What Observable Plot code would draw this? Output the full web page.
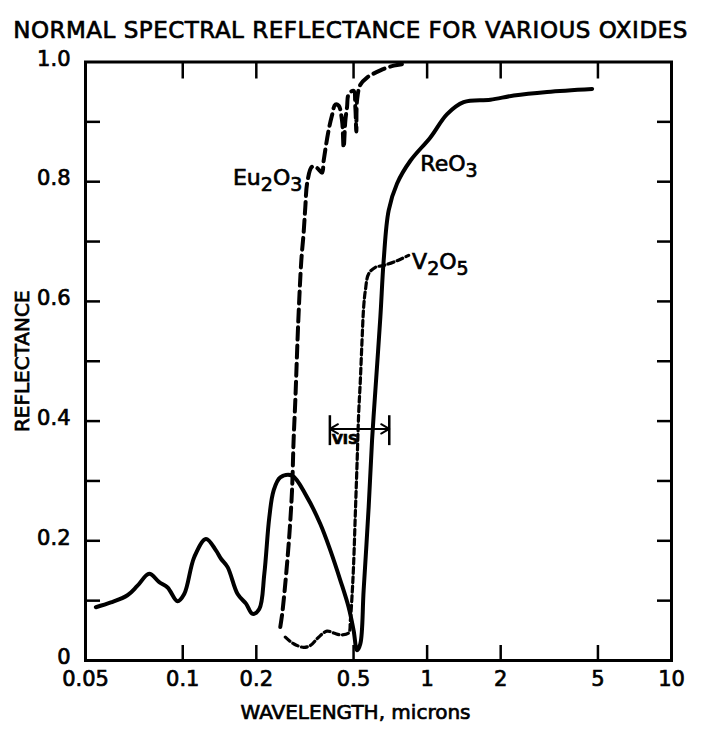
<!DOCTYPE html>
<html>
<head>
<meta charset="utf-8">
<script src="https://cdn.jsdelivr.net/npm/d3@7"></script>
<script src="https://cdn.jsdelivr.net/npm/@observablehq/plot@0.6"></script>
<style>
  body { margin: 0; background: #fff; }
  #title {
    height: 44px; box-sizing: border-box; padding-top: 17px;
    text-align: center; font: 23px "DejaVu Sans"; color: #000; letter-spacing: 0.5px;
    -webkit-text-stroke: 0.7px #000; white-space: nowrap;
  }
  #chart svg text { stroke: #000; stroke-width: 0.7px; }
</style>
</head>
<body>
<div id="title">NORMAL SPECTRAL REFLECTANCE FOR VARIOUS OXIDES</div>
<div id="chart"></div>
<script>
// ---- data (wavelength in microns, reflectance 0..1) ----
const reo3Wavelength = [0.0441, 0.0508, 0.0594, 0.0653, 0.0729, 0.0801, 0.0867, 0.0952, 0.1014, 0.1115,
  0.1245, 0.1367, 0.1434, 0.1526, 0.1677, 0.1815, 0.1931, 0.2057, 0.2157, 0.226, 0.2354, 0.2507,
  0.280, 0.3225, 0.3656, 0.4018, 0.4414, 0.4773, 0.5004, 0.5167, 0.533, 0.5498, 0.5764, 0.5952,
  0.614, 0.6437, 0.664, 0.6961, 0.7534, 0.854, 1.031, 1.207, 1.411, 1.815, 2.262, 3.097, 4.735];
const reo3Reflectance = [0.089, 0.097, 0.109, 0.125, 0.145, 0.131, 0.122, 0.099, 0.111, 0.173,
  0.203, 0.184, 0.170, 0.156, 0.111, 0.095, 0.078, 0.086, 0.145, 0.239, 0.284, 0.306,
  0.309, 0.273, 0.228, 0.184, 0.134, 0.089, 0.050, 0.017, 0.028, 0.117, 0.256, 0.368,
  0.451, 0.574, 0.668, 0.752, 0.797, 0.835, 0.874, 0.913, 0.933, 0.937, 0.944, 0.950, 0.955];

const eu2o3Wavelength = [0.2507, 0.2556, 0.2612, 0.2679, 0.2738, 0.280, 0.2842, 0.2888, 0.2971, 0.3056,
  0.3123, 0.3173, 0.3233, 0.3381, 0.3543, 0.3715, 0.3772, 0.3953, 0.4082, 0.4211, 0.4345, 0.4486,
  0.4554, 0.4628, 0.4703, 0.4773, 0.5004, 0.5084, 0.5132, 0.5167, 0.533, 0.5677, 0.6437, 0.7295, 0.8147];
const eu2o3Reflectance = [0.056, 0.080, 0.117, 0.167, 0.217, 0.284, 0.368, 0.434, 0.568, 0.668,
  0.714, 0.757, 0.799, 0.825, 0.823, 0.815, 0.835, 0.886, 0.911, 0.929, 0.927, 0.902,
  0.857, 0.902, 0.925, 0.946, 0.952, 0.925, 0.884, 0.936, 0.962, 0.974, 0.986, 0.994, 0.997];

const v2o5Wavelength = [0.2629, 0.2842, 0.3123, 0.3327, 0.3597, 0.3895, 0.4144, 0.4414, 0.4773, 0.4851,
  0.4943, 0.5004, 0.5084, 0.5167, 0.5246, 0.533, 0.5416, 0.5498, 0.5587, 0.5764, 0.614, 0.664,
  0.7534, 0.8405];
const v2o5Reflectance = [0.039, 0.028, 0.022, 0.025, 0.039, 0.049, 0.046, 0.043, 0.046, 0.067,
  0.117, 0.162, 0.245, 0.329, 0.412, 0.468, 0.535, 0.590, 0.618, 0.646, 0.657, 0.660,
  0.668, 0.677];

// series labels (name, anchor wavelength, anchor reflectance, text anchor)
const labelNames = ["Eu2O3", "ReO3", "V2O5"];
const labelWavelength = [0.3085, 0.938, 0.868];
const labelReflectance = [0.806, 0.830, 0.666];
const labelAnchor = ["end", "start", "start"];

// visible band marker
const visRange = [0.4, 0.7];
const visLevel = 0.387;
const visBar = [0.359, 0.409];
const visText = "VIS";

// axes
const xDomain = [0.04, 10];
const xTickValues = [0.04, 0.1, 0.2, 0.5, 1, 2, 5, 10];
const xTickLabels = ["0.05", "0.1", "0.2", "0.5", "1", "2", "5", "10"];
const xInnerTicks = [0.1, 0.2, 0.5, 1, 2, 5];
const yTickValues = [0, 0.2, 0.4, 0.6, 0.8, 1.0];
const yTickLabels = ["0", "0.2", "0.4", "0.6", "0.8", "1.0"];
const yInnerTicks = [0.1, 0.2, 0.3, 0.4, 0.5, 0.6, 0.7, 0.8, 0.9];
const xLabel = "WAVELENGTH, microns";
const yLabel = "REFLECTANCE";

// ---- build tables ----
const toRows = (xs, ys) => xs.map((x, i) => ({x, y: ys[i]}));
const reo3 = toRows(reo3Wavelength, reo3Reflectance);
const eu2o3 = toRows(eu2o3Wavelength, eu2o3Reflectance);
const v2o5 = toRows(v2o5Wavelength, v2o5Reflectance);
const labels = labelNames.map((t, i) => ({t, x: labelWavelength[i], y: labelReflectance[i], a: labelAnchor[i]}));
const xTicks = xTickValues.map((v, i) => ({v, t: xTickLabels[i]}));
const yTicks = yTickValues.map((v, i) => ({v, t: yTickLabels[i]}));
const visMid = Math.sqrt(visRange[0] * visRange[1]);

const chart = Plot.plot({
  width: 701,
  height: 685,
  marginLeft: 85,
  marginRight: 30,
  marginTop: 17.5,
  marginBottom: 69,
  style: {fontFamily: "DejaVu Sans", color: "#000", background: "#fff"},
  x: {type: "log", domain: xDomain},
  y: {domain: [0, 1]},
  marks: [
    // inner ticks
    Plot.axisX(xInnerTicks, {anchor: "bottom", tickSize: 15, dy: -15, tickFormat: () => "", strokeWidth: 2.5, label: null}),
    Plot.axisX(xInnerTicks, {anchor: "top", tickSize: 16, dy: 16, tickFormat: () => "", strokeWidth: 2.5, label: null}),
    Plot.axisY(yInnerTicks, {anchor: "left", tickSize: 15, dx: 15, tickFormat: () => "", strokeWidth: 2.5, label: null}),
    Plot.axisY(yInnerTicks, {anchor: "right", tickSize: 15, dx: -15, tickFormat: () => "", strokeWidth: 2.5, label: null}),
    // y axis title
    Plot.axisY(yTickValues, {anchor: "left", tickSize: 0, tickFormat: () => "", label: yLabel,
      labelAnchor: "center", labelArrow: "none", labelOffset: 71, fontSize: 20}),
    // tick labels
    Plot.text(xTicks, {x: "v", text: "t", frameAnchor: "bottom", dy: 25, fontSize: 21}),
    Plot.text(yTicks, {y: "v", text: "t", frameAnchor: "left", dx: -15, dy: -3, textAnchor: "end", fontSize: 21}),
    Plot.frame({stroke: "#000", strokeWidth: 3}),
    // curves
    Plot.line(reo3, {x: "x", y: "y", curve: "catmull-rom", stroke: "#000", strokeWidth: 4}),
    Plot.line(eu2o3, {x: "x", y: "y", curve: "catmull-rom", stroke: "#000", strokeWidth: 4, strokeDasharray: "12,6"}),
    Plot.line(v2o5, {x: "x", y: "y", curve: "catmull-rom", stroke: "#000", strokeWidth: 3.2, strokeDasharray: "6,3.5"}),
    // VIS marker
    Plot.ruleX(visRange, {x: d => d, y1: visBar[0], y2: visBar[1], stroke: "#000", strokeWidth: 2.5}),
    Plot.arrow(visRange, {x1: visMid, x2: d => d, y1: visLevel, y2: visLevel, stroke: "#000", strokeWidth: 2, headLength: 7, inset: 0}),
    Plot.text([visText], {x: visRange[0], y: visLevel, text: d => d, dx: 2, dy: 11, textAnchor: "start", fontSize: 14, fontWeight: "bold"}),
    // series labels
    Plot.text(labels.filter(d => d.a === "end"), {x: "x", y: "y", text: "t", textAnchor: "end", fontSize: 22, className: "formula"}),
    Plot.text(labels.filter(d => d.a === "start"), {x: "x", y: "y", text: "t", textAnchor: "start", fontSize: 22, className: "formula"}),
    // x axis title
    Plot.text([xLabel], {frameAnchor: "bottom", text: d => d, dx: -23, dy: 58, fontSize: 20})
  ]
});
document.getElementById("chart").append(chart);

// render digits in chemical formulas as subscripts
chart.querySelectorAll("g.formula text").forEach(t => {
  const s = t.textContent;
  t.textContent = "";
  let sub = false;
  for (const ch of s) {
    const isDigit = /\d/.test(ch);
    const ts = document.createElementNS("http://www.w3.org/2000/svg", "tspan");
    ts.textContent = ch;
    if (isDigit && !sub) { ts.setAttribute("dy", "6"); sub = true; }
    else if (!isDigit && sub) { ts.setAttribute("dy", "-6"); sub = false; }
    if (isDigit) ts.setAttribute("font-size", "19");
    t.appendChild(ts);
  }
});
</script>
</body>
</html>
